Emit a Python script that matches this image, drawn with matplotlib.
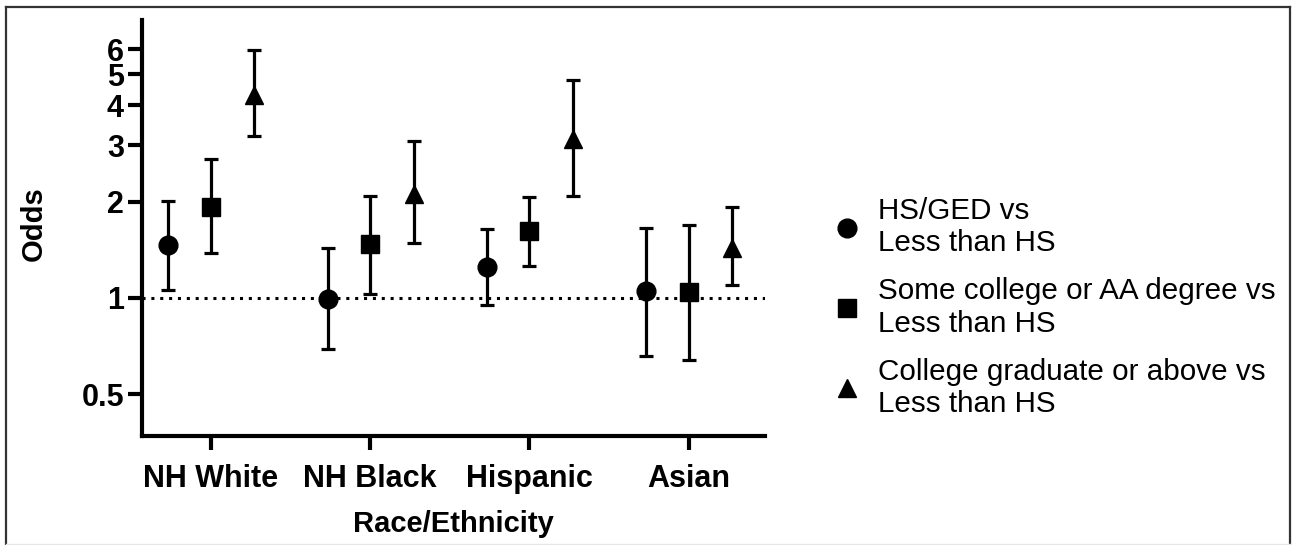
import matplotlib
matplotlib.use("Agg")
import matplotlib.pyplot as plt
from matplotlib.lines import Line2D
import numpy as np

# ---- data ----
categories = ["NH White", "NH Black", "Hispanic", "Asian"]
series_labels = ["HS/GED vs\nLess than HS",
                 "Some college or AA degree vs\nLess than HS",
                 "College graduate or above vs\nLess than HS"]
markers = ["o", "s", "^"]

hs_est = [1.46, 0.99, 1.25, 1.05]
hs_lo = [1.06, 0.69, 0.95, 0.66]
hs_hi = [2.01, 1.43, 1.64, 1.65]

some_est = [1.93, 1.47, 1.62, 1.04]
some_lo = [1.38, 1.03, 1.26, 0.64]
some_hi = [2.71, 2.09, 2.07, 1.69]

coll_est = [4.30, 2.12, 3.13, 1.43]
coll_lo = [3.20, 1.48, 2.09, 1.10]
coll_hi = [5.97, 3.09, 4.82, 1.92]

ytick_vals = [0.5, 1, 2, 3, 4, 5, 6]
ytick_labels = ["0.5", "1", "2", "3", "4", "5", "6"]

series = [(hs_est, hs_lo, hs_hi), (some_est, some_lo, some_hi), (coll_est, coll_lo, coll_hi)]
offsets = [-0.265, 0.0, 0.275]

W, H = 1292, 545
fig = plt.figure(figsize=(W / 100, H / 100), dpi=100)
fig.patch.set_facecolor("white")
ax = fig.add_axes([142 / W, 1 - 436 / H, (765 - 142) / W, (436 - 20) / H])

FONT = "Liberation Sans"
MS = 13.5
x = np.arange(len(categories))
for (est, lo, hi), m, off, lab in zip(series, markers, offsets, series_labels):
    est = np.array(est); lo = np.array(lo); hi = np.array(hi)
    ax.errorbar(x + off, est, yerr=[est - lo, hi - est], fmt=m, color="black",
                ms=MS, elinewidth=2.3, capsize=5, capthick=2.3, label=lab,
                zorder=3)

ax.set_yscale("log")
ax.set_ylim(0.37, 7.4)
ax.set_xlim(-0.43, 3.48)
ax.axhline(1, color="black", lw=2.2, linestyle=(0, (1, 1.9)), zorder=2)

ax.set_yticks(ytick_vals)
ax.set_yticklabels(ytick_labels)
ax.yaxis.set_minor_locator(matplotlib.ticker.NullLocator())
ax.set_xticks(x)
ax.set_xticklabels(categories)

for s in ["top", "right"]:
    ax.spines[s].set_visible(False)
for s in ["left", "bottom"]:
    ax.spines[s].set_linewidth(3)

ax.tick_params(axis="both", which="major", length=10, width=3, color="black")
ax.tick_params(axis="y", pad=3)
ax.tick_params(axis="x", pad=10)
for t in ax.get_xticklabels() + ax.get_yticklabels():
    t.set_fontfamily(FONT)
    t.set_fontweight("bold")
    t.set_fontsize(22)

ax.set_xlabel("Race/Ethnicity", fontfamily=FONT, fontweight="bold", fontsize=21, labelpad=12)
ax.set_ylabel("Odds", fontfamily=FONT, fontweight="bold", fontsize=21)
ax.yaxis.set_label_coords(-0.151, 0.51)

leg_handles = [Line2D([0], [0], marker=m, color="black", linestyle="none", ms=MS)
               for m in markers]
fig.legend(leg_handles, series_labels, loc="center left",
           bbox_to_anchor=(832 / W, 1 - 307.5 / H), frameon=False,
           prop={"family": FONT, "size": 21.3}, handlelength=1.0,
           handletextpad=0.55, labelspacing=0.67, borderpad=0, borderaxespad=0)

# figure border
fig.add_artist(Line2D([6 / W, 6 / W], [0, 1 - 7 / H], transform=fig.transFigure, color="#333333", lw=1.6))
fig.add_artist(Line2D([6 / W, 1290 / W], [1 - 7 / H, 1 - 7 / H], transform=fig.transFigure, color="#333333", lw=1.6))
fig.add_artist(Line2D([1290 / W, 1290 / W], [0, 1 - 7 / H], transform=fig.transFigure, color="#333333", lw=1.6))
fig.add_artist(Line2D([6 / W, 1290 / W], [1 / H, 1 / H], transform=fig.transFigure, color="#e6e6e6", lw=1.0))

fig.savefig("out.png", dpi=100, facecolor="white")
